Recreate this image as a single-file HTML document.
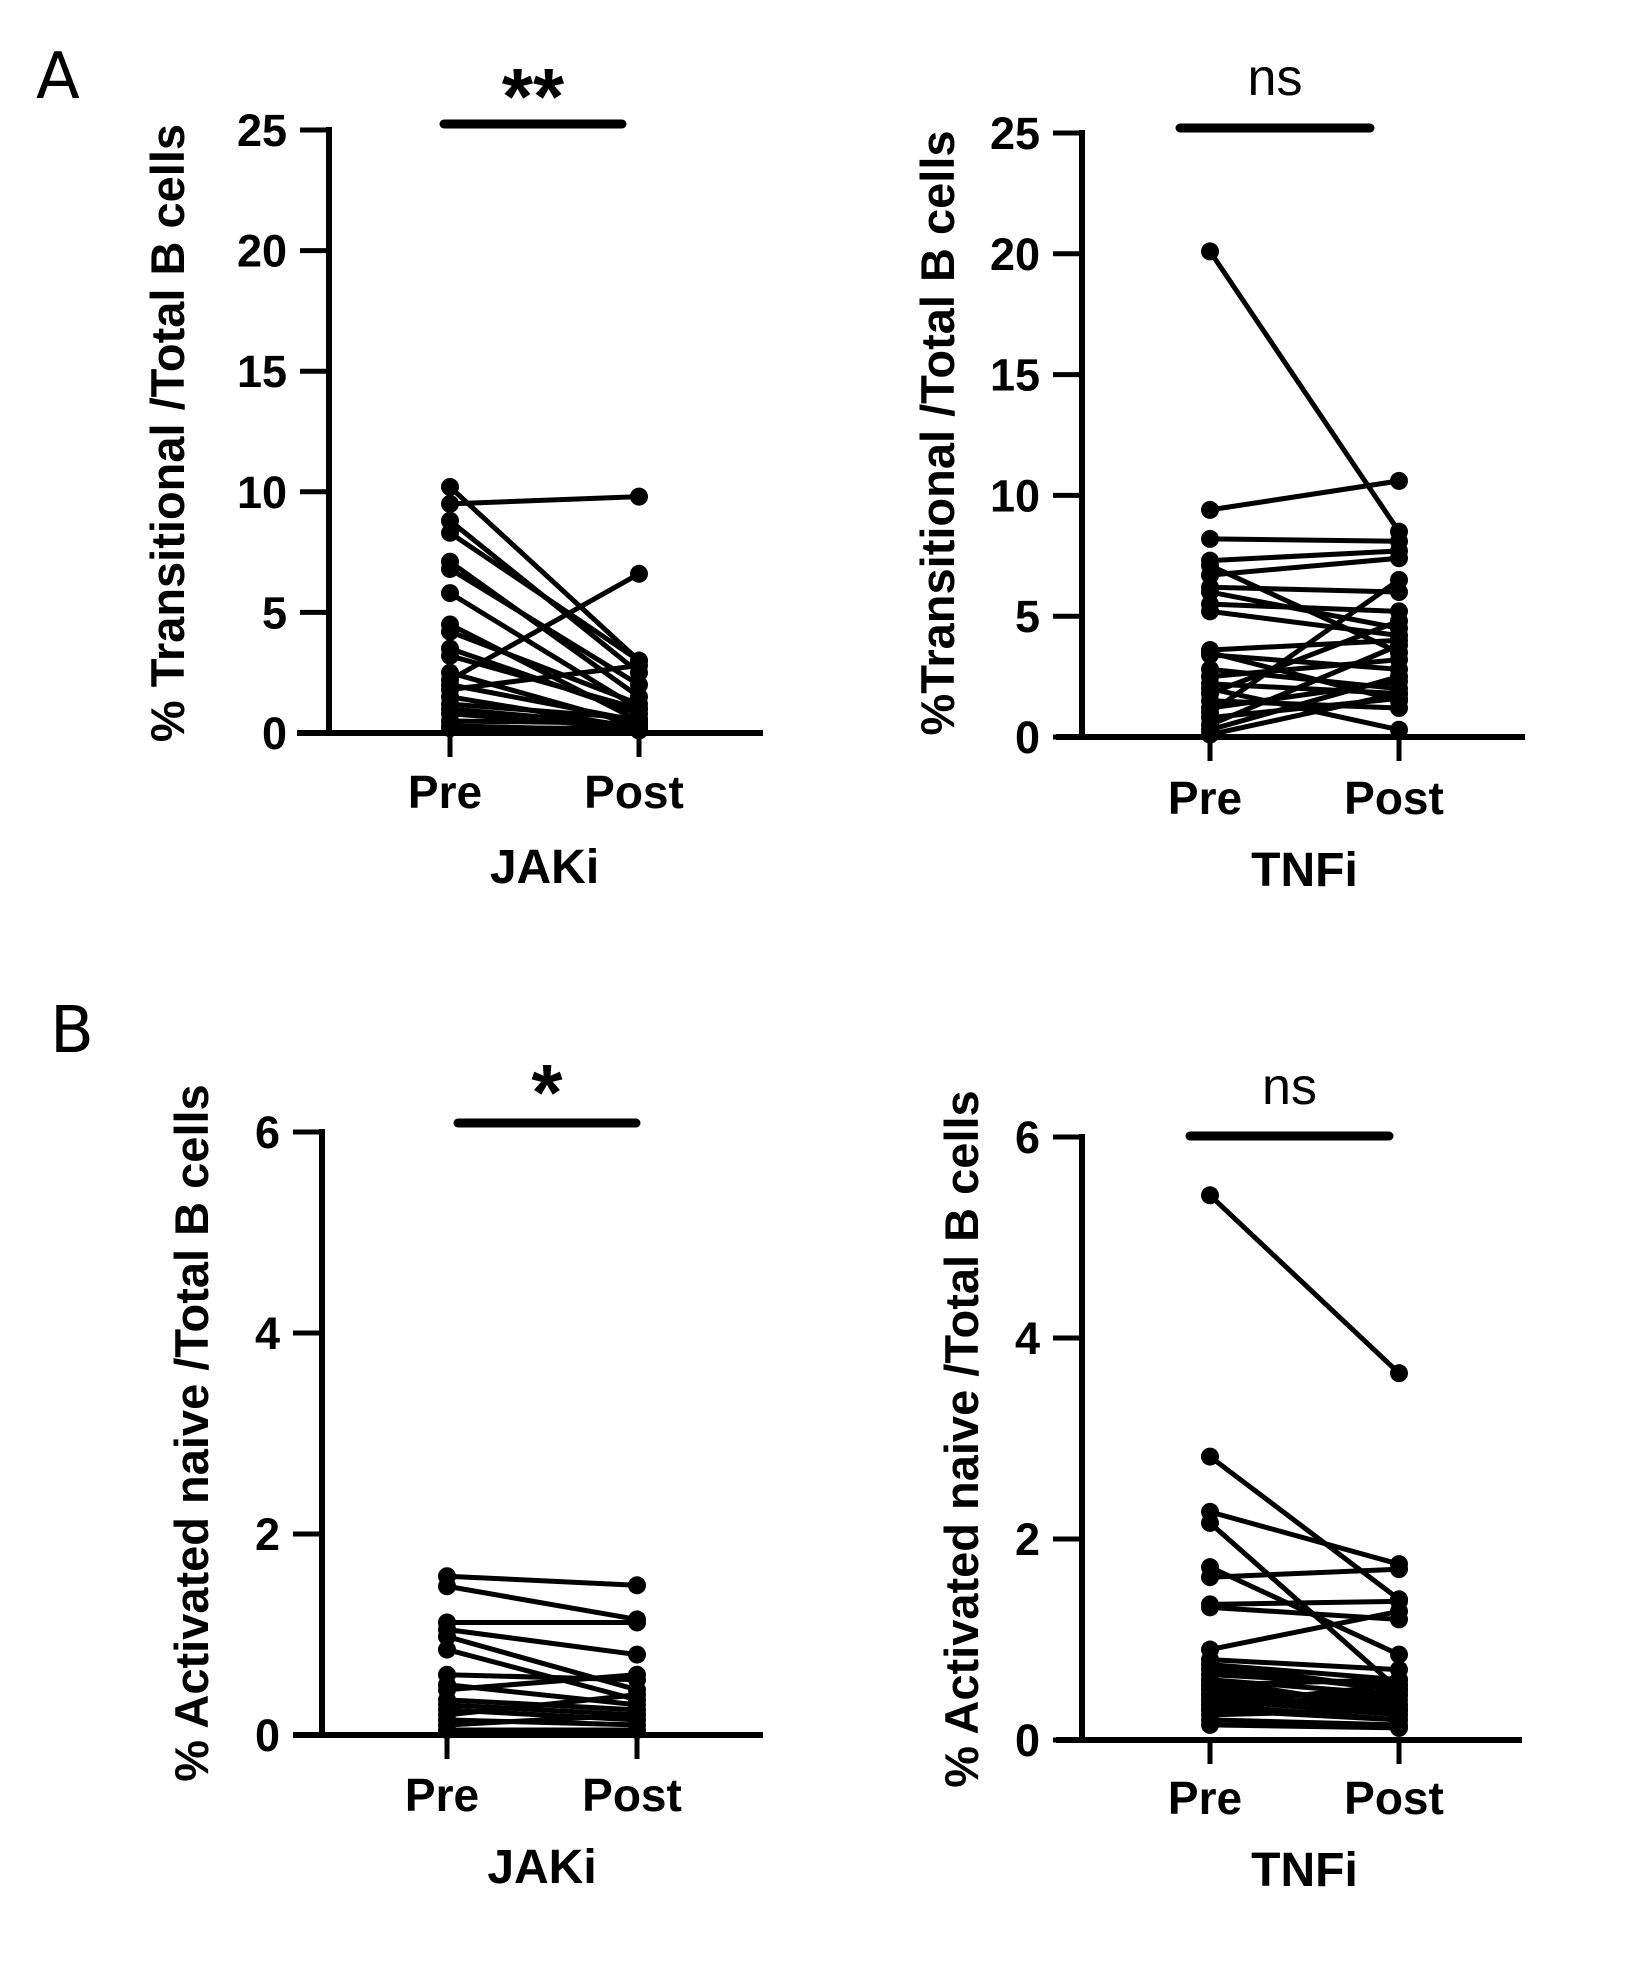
<!DOCTYPE html>
<html><head><meta charset="utf-8">
<style>
html,body{margin:0;padding:0;background:#fff;}
svg{display:block;font-family:"Liberation Sans",Arial,sans-serif;}
</style></head>
<body>
<svg id="fig" width="1645" height="1980" viewBox="0 0 1645 1980" xmlns="http://www.w3.org/2000/svg">
<text x="36" y="98" font-size="64" font-family="'DejaVu Sans','Liberation Sans',sans-serif">A</text>
<text x="50" y="1052" font-size="64" font-family="'DejaVu Sans','Liberation Sans',sans-serif">B</text>
</svg>
<script>
// Panel A JAKi
const aJakPre  = [10.2, 9.5, 8.8, 8.3, 7.1, 6.8, 5.8, 4.5, 4.2, 3.5, 3.2, 2.5, 2.2, 2.0, 1.8, 1.5, 1.2, 1.0, 0.8, 0.5, 0.3, 0.2];
const aJakPost = [3.0, 9.8, 2.5, 3.0, 1.5, 2.0, 1.0, 0.5, 1.2, 0.8, 1.0, 0.3, 6.6, 0.5, 2.8, 0.2, 0.6, 0.3, 0.2, 0.4, 0.1, 0.2];
// Panel A TNFi
const aTnfPre  = [20.1, 9.4, 8.2, 7.3, 7.1, 6.7, 6.2, 6.0, 5.5, 5.2, 3.6, 3.5, 3.4, 2.8, 2.5, 2.2, 2.0, 1.8, 1.5, 1.2, 1.0, 0.8, 0.5, 0.3, 0.1];
const aTnfPost = [8.5, 10.6, 8.1, 7.7, 3.5, 7.4, 6.0, 4.5, 5.2, 4.2, 4.0, 1.5, 2.8, 2.0, 3.2, 1.8, 0.3, 4.8, 1.2, 2.3, 6.5, 1.6, 3.8, 2.5, 1.8];
// Panel B JAKi
const bJakPre  = [1.58, 1.48, 1.12, 1.05, 0.98, 0.85, 0.6, 0.5, 0.45, 0.35, 0.3, 0.25, 0.2, 0.15, 0.1, 0.05];
const bJakPost = [1.49, 1.15, 1.12, 0.8, 0.45, 0.35, 0.55, 0.3, 0.6, 0.25, 0.2, 0.15, 0.4, 0.1, 0.2, 0.05];
// Panel B TNFi
const bTnfPre  = [5.42, 2.82, 2.27, 2.16, 1.72, 1.62, 1.35, 1.32, 0.9, 0.8, 0.75, 0.7, 0.6, 0.55, 0.5, 0.45, 0.4, 0.35, 0.3, 0.2, 0.75, 0.65, 0.6, 0.55, 0.5, 0.45, 0.4, 0.35, 0.3, 0.25, 0.15];
const bTnfPost = [3.65, 1.4, 1.75, 0.5, 0.85, 1.7, 1.38, 1.2, 1.28, 0.7, 0.6, 0.5, 0.45, 0.35, 0.4, 0.3, 0.25, 0.55, 0.2, 0.15, 0.5, 0.55, 0.3, 0.6, 0.25, 0.45, 0.35, 0.2, 0.5, 0.3, 0.12];
const categories = ["Pre", "Post"];
const ticksA = [0, 5, 10, 15, 20, 25];
const ticksB = [0, 2, 4, 6];

const NS = "http://www.w3.org/2000/svg";
const svg = document.getElementById("fig");
function mk(tag, attrs, parent){
  const e = document.createElementNS(NS, tag);
  for (const k in attrs) e.setAttribute(k, attrs[k]);
  (parent||svg).appendChild(e);
  return e;
}

function panel(cfg){
  const g = mk("g", {});
  
  
  const ymax = cfg.ticks[cfg.ticks.length-1];
  const yS = v => cfg.y0 + (cfg.yTop - cfg.y0) * v / ymax;
  const xS = i => cfg.xs[i];
  const ya = mk("line", {x1:cfg.ax, y1:yS(ymax)-3, x2:cfg.ax, y2:cfg.y0+3, stroke:"#000","stroke-width":6}, g);
  
  
  const xa = mk("line", {x1:cfg.xl, y1:cfg.y0, x2:cfg.xr, y2:cfg.y0, stroke:"#000","stroke-width":6}, g);
  
  
  cfg.ticks.forEach(t => {
    const y = yS(t);
    const tl = mk("line", {x1:cfg.ax-29, y1:y, x2:cfg.ax, y2:y, stroke:"#000","stroke-width":5}, g);
    
    
    const tx = mk("text", {x:cfg.ax-42, y:y+16, "font-size":45, "font-weight":"bold", "text-anchor":"end"}, g);
    tx.textContent = t;
    
    
  });
  categories.forEach((c,i) => {
    const x = xS(i);
    const tl = mk("line", {x1:x, y1:cfg.y0, x2:x, y2:cfg.y0+24, stroke:"#000","stroke-width":5}, g);
    
    
    const tx = mk("text", {x:x-5, y:cfg.preY, "font-size":46, "font-weight":"bold", "text-anchor":"middle"}, g);
    tx.textContent = c;
    
    
  });
  const xt = mk("text", {x:(xS(0)+xS(1))/2, y:cfg.titleY, "font-size":48, "font-weight":"bold", "text-anchor":"middle"}, g);
  xt.textContent = cfg.xtitle;
  
  
  const yt = mk("text", {x:0, y:0, "font-size":47, "font-weight":"bold", "text-anchor":"middle", transform:`translate(${cfg.ytx},${cfg.yty}) rotate(-90)`}, g);
  yt.textContent = cfg.ytitle;
  
  
  const sb = mk("line", {x1:cfg.sig[0], y1:cfg.sig[2], x2:cfg.sig[1], y2:cfg.sig[2], stroke:"#000","stroke-width":9,"stroke-linecap":"round"}, g);
  
  
  const st = mk("text", {x:(cfg.sig[0]+cfg.sig[1])/2, y:cfg.sigY, "font-size":cfg.sigSize, "font-weight":cfg.sigW, "text-anchor":"middle"}, g);
  st.textContent = cfg.sigText;
  
  
  cfg.pre.forEach((v,i) => {
    const ln = mk("line", {x1:xS(0), y1:yS(v), x2:xS(1), y2:yS(cfg.post[i]), stroke:"#000","stroke-width":5}, g);
    
    
  });
  cfg.pre.forEach((v,i) => {
    const p1 = mk("circle", {cx:xS(0), cy:yS(v), r:9, fill:"#000"}, g);
    
    
    const p2 = mk("circle", {cx:xS(1), cy:yS(cfg.post[i]), r:9, fill:"#000"}, g);
    
    
  });
}

panel({name:"panel-a-jaki", pre:aJakPre, post:aJakPost, ticks:ticksA, ax:329, y0:733, yTop:130, xl:297, xr:763, xs:[450,639],
  preY:808, titleY:883,
  xtitle:"JAKi", ytitle:"% Transitional /Total B cells", ytx:184, yty:433,
  sig:[444,622,124], sigText:"**", sigY:124, sigSize:80, sigW:"bold"});
panel({name:"panel-a-tnfi", pre:aTnfPre, post:aTnfPost, ticks:ticksA, ax:1082, y0:737, yTop:133, xl:1056, xr:1525, xs:[1210,1399],
  preY:814, titleY:886,
  xtitle:"TNFi", ytitle:"%Transitional /Total B cells", ytx:954, yty:433,
  sig:[1180,1370,128], sigText:"ns", sigY:95, sigSize:52, sigW:"normal"});
panel({name:"panel-b-jaki", pre:bJakPre, post:bJakPost, ticks:ticksB, ax:322, y0:1735, yTop:1132, xl:293, xr:763, xs:[447,637],
  preY:1811, titleY:1883,
  xtitle:"JAKi", ytitle:"% Activated naive /Total B cells", ytx:208, yty:1433,
  sig:[458,636,1123], sigText:"*", sigY:1120, sigSize:80, sigW:"bold"});
panel({name:"panel-b-tnfi", pre:bTnfPre, post:bTnfPost, ticks:ticksB, ax:1082, y0:1740, yTop:1137, xl:1056, xr:1522, xs:[1210,1399],
  preY:1814, titleY:1886,
  xtitle:"TNFi", ytitle:"% Activated naive /Total B cells", ytx:978, yty:1439,
  sig:[1190,1389,1136], sigText:"ns", sigY:1104, sigSize:52, sigW:"normal"});
</script>
</body></html>
